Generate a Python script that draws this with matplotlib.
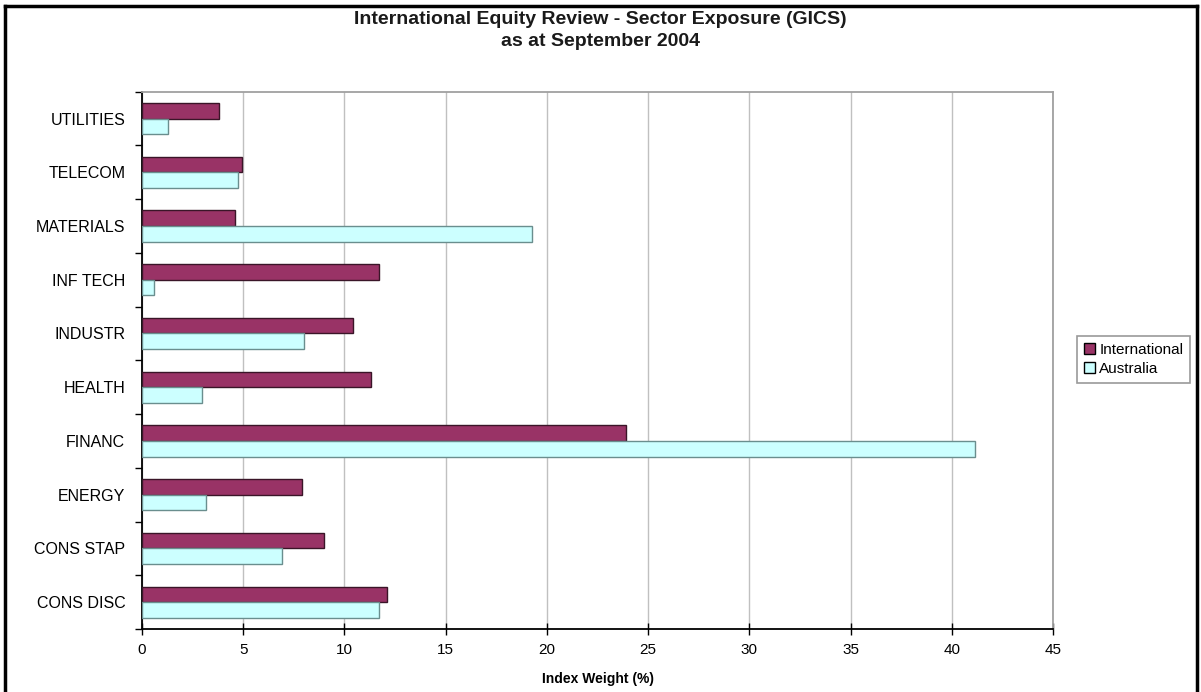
import numpy as np
import matplotlib
matplotlib.use('Agg')
import matplotlib.pyplot as plt
from matplotlib.lines import Line2D

plt.rcParams['font.family'] = ['Liberation Sans', 'DejaVu Sans']

# GICS sectors, bottom to top
sectors = ['CONS DISC', 'CONS STAP', 'ENERGY', 'FINANC', 'HEALTH',
           'INDUSTR', 'INF TECH', 'MATERIALS', 'TELECOM', 'UTILITIES']
international = [12.1, 9.0, 7.9, 23.9, 11.3, 10.4, 11.7, 4.6, 4.95, 3.8]
australia = [11.7, 6.9, 3.15, 41.15, 2.95, 8.0, 0.6, 19.25, 4.75, 1.3]
xticks = np.arange(0, 50, 5)

fig = plt.figure(figsize=(12.01, 6.92), dpi=100)
ax = fig.add_axes([142/1201, 1 - 629/692, (1053 - 142)/1201, (629 - 91.7)/692])

y = np.arange(len(sectors))
h = 0.29
ax.barh(y + h/2, international, height=h, color='#993366', edgecolor='#3a1528',
        linewidth=1.0, label='International', zorder=3)
ax.barh(y - h/2, australia, height=h, color='#ccffff', edgecolor='#6a8e8e',
        linewidth=1.0, label='Australia', zorder=3)

ax.set_xlim(0, 45)
ax.set_ylim(-0.5, len(sectors) - 0.5)
ax.set_xticks(xticks)
ax.set_xticklabels([str(v) for v in xticks], fontsize=11)
ax.set_yticks(y)
ax.set_yticklabels(sectors, fontsize=11.5)
ax.set_yticks(np.arange(len(sectors) + 1) - 0.5, minor=True)
ax.tick_params(axis='y', which='major', length=0, pad=12)
ax.tick_params(axis='y', which='minor', length=5, width=1.0, direction='out')
ax.tick_params(axis='x', which='major', length=8, width=1.0, direction='inout', pad=6)
ax.xaxis.grid(True, color='#c0c0c0', linewidth=1.0, zorder=0)
ax.set_axisbelow(True)

for side in ('left', 'bottom'):
    ax.spines[side].set_color('black')
    ax.spines[side].set_linewidth(1.3)
for side in ('top', 'right'):
    ax.spines[side].set_color('#a0a0a0')
    ax.spines[side].set_linewidth(1.3)

ax.set_xlabel('Index Weight (%)', fontsize=10, fontweight='bold', labelpad=11)

fig.text(0.5, 1 - 20/692, 'International Equity Review - Sector Exposure (GICS)',
         ha='center', va='center', fontsize=14, fontweight='bold', color='#1a1a1a')
fig.text(0.5, 1 - 42/692, 'as at September 2004', ha='center', va='center',
         fontsize=14, fontweight='bold', color='#1a1a1a')

leg = fig.legend(loc='center left', bbox_to_anchor=(1077/1201, 1 - 359.5/692),
                 fontsize=11, frameon=True, fancybox=False, shadow=False,
                 handlelength=0.7, handleheight=0.7, handletextpad=0.3,
                 borderpad=0.45, labelspacing=0.35, borderaxespad=0)
leg.get_frame().set_edgecolor('#808080')
leg.get_frame().set_linewidth(1.2)
for patch in leg.get_patches():
    patch.set_edgecolor('black')

# outer border of the chart area
for xs, ys in (([5/1201, 5/1201], [0, 1 - 6/692]),
               ([5/1201, 1197/1201], [1 - 6/692, 1 - 6/692]),
               ([1197/1201, 1197/1201], [0, 1 - 6/692])):
    fig.add_artist(Line2D(xs, ys, color='black', linewidth=2.5, transform=fig.transFigure))

fig.savefig('out.png', dpi=100)
